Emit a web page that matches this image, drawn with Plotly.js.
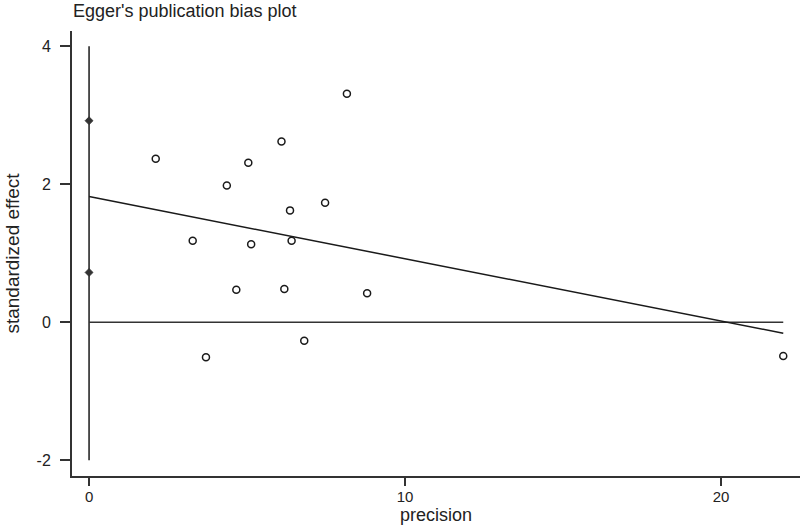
<!DOCTYPE html>
<html>
<head>
<meta charset="utf-8">
<script src="https://cdn.plot.ly/plotly-3.0.1.min.js"></script>
<style>
  html, body { margin: 0; padding: 0; background: #fff; }
  #plot { width: 800px; height: 526px; }
</style>
</head>
<body>
<div id="plot"></div>
<script>
////////// DATA ///////////////
let precision = [2.11, 8.16, 6.09, 5.04, 4.36, 7.47, 6.36, 3.28, 5.13, 6.41, 4.66, 6.18, 8.80, 3.70, 6.81, 21.97];
let stdEffect = [2.37, 3.31, 2.62, 2.31, 1.98, 1.73, 1.62, 1.18, 1.13, 1.18, 0.47, 0.48, 0.42, -0.51, -0.27, -0.49];

// Egger regression line (intercept at precision 0, end at max precision)
let fitX = [0, 21.97];
let fitY = [1.82, -0.16];

// reference line at zero
let zeroX = [0, 21.97];
let zeroY = [0, 0];

// 95% CI of intercept, drawn on the y axis (x = 0)
let ciX = [0, 0];
let ciY = [0.72, 2.92];
let vlineX = [0, 0];
let vlineY = [-2, 4];

let xTicks = [0, 10, 20];
let yTicks = [-2, 0, 2, 4];
let yTickText = ['-2', '0', '2', '4'];

let inkColor = '#1a1a1a';

let data = [
  {
    x: vlineX, y: vlineY, type: 'scatter', mode: 'lines',
    line: {color: inkColor, width: 1.5}, hoverinfo: 'skip', showlegend: false
  },
  {
    x: zeroX, y: zeroY, type: 'scatter', mode: 'lines',
    line: {color: '#333', width: 1.5}, hoverinfo: 'skip', showlegend: false
  },
  {
    x: fitX, y: fitY, type: 'scatter', mode: 'lines',
    line: {color: inkColor, width: 1.5}, showlegend: false
  },
  {
    x: ciX, y: ciY, type: 'scatter', mode: 'markers',
    marker: {symbol: 'diamond', size: 6, color: '#333', line: {color: '#333', width: 1}},
    showlegend: false
  },
  {
    x: precision, y: stdEffect, type: 'scatter', mode: 'markers',
    marker: {symbol: 'circle-open', size: 7, color: inkColor, line: {color: inkColor, width: 1.5}},
    showlegend: false
  }
];

let fontFam = 'Liberation Sans, Arial, sans-serif';
let tickFont = {family: fontFam, size: 16, color: '#222'};
let xTickFont = {family: fontFam, size: 15, color: '#222'};
let axisTitleFont = {family: fontFam, size: 19, color: '#222'};

let layout = {
  width: 800,
  height: 526,
  margin: {l: 72, r: 0, t: 31, b: 50, pad: 0},
  paper_bgcolor: '#fff',
  plot_bgcolor: '#fff',
  font: {family: fontFam, size: 16, color: '#222'},
  title: {
    text: "Egger's publication bias plot",
    x: 0, xref: 'paper', xanchor: 'left',
    y: 1, yref: 'container', yanchor: 'top', pad: {t: 4, l: 1},
    font: {family: fontFam, size: 18, color: '#222'}
  },
  xaxis: {
    range: [-0.54, 22.5],
    tickvals: xTicks,
    ticks: 'outside', ticklen: 8, tickwidth: 1.5, tickcolor: '#333',
    showline: true, linecolor: '#333', linewidth: 2,
    showgrid: false, zeroline: false,
    tickfont: xTickFont,
    ticklabelstandoff: -2,
    title: {text: 'precision', standoff: 0, font: {family: fontFam, size: 18, color: '#222'}}
  },
  yaxis: {
    range: [-2.23, 4.22],
    tickvals: yTicks,
    ticktext: yTickText,
    ticks: 'outside', ticklen: 10, tickwidth: 1.5, tickcolor: '#333',
    showline: true, linecolor: '#333', linewidth: 2,
    showgrid: false, zeroline: false,
    tickfont: tickFont,
    ticklabelstandoff: 6,
    title: {text: 'standardized effect', standoff: 12, font: axisTitleFont}
  },
  hovermode: 'closest'
};

Plotly.newPlot('plot', data, layout, {displayModeBar: false});
</script>
</body>
</html>
